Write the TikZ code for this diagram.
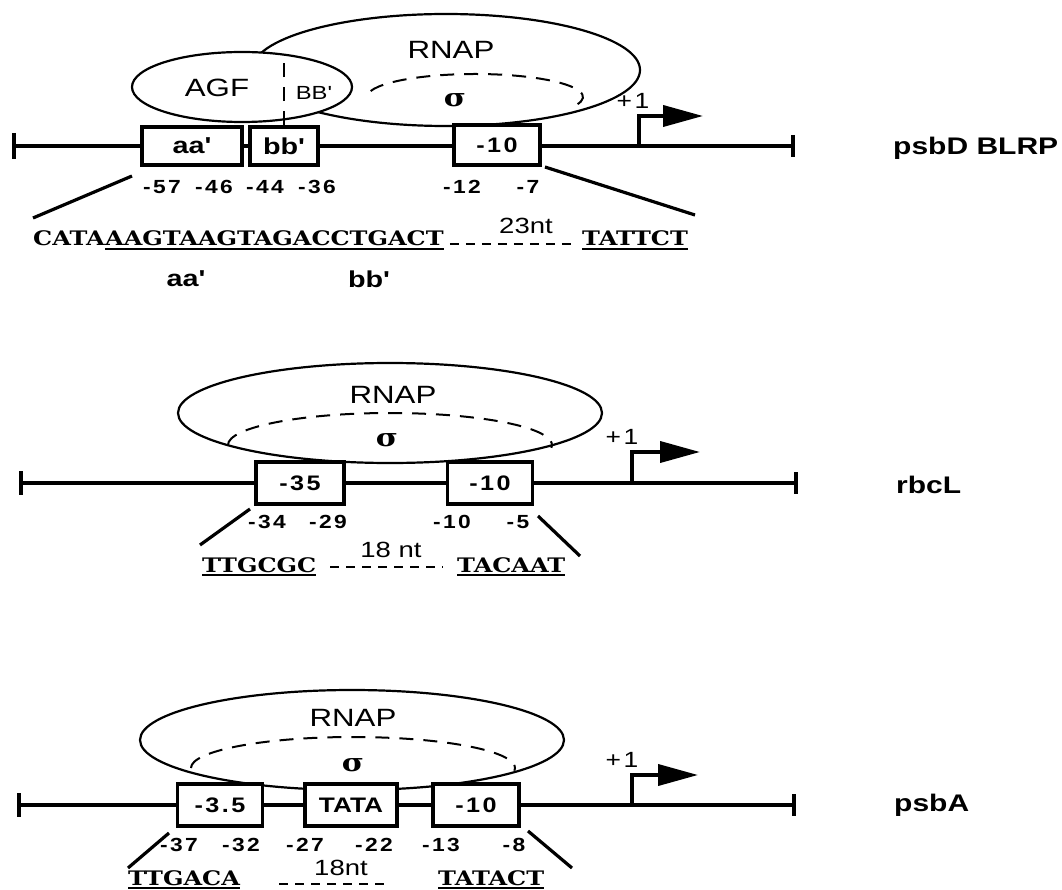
\documentclass[tikz,border=0pt]{standalone}
\usepackage{fontspec}
\usetikzlibrary{shapes.geometric, arrows.meta}
\setmainfont{Liberation Sans}
\newfontfamily\sansw{Liberation Sans}[FakeStretch=1.25]
\newfontfamily\sansn{Liberation Sans}[FakeStretch=1.2, LetterSpace=12]
\newfontfamily\serifw{DejaVu Serif}[FakeStretch=1.2]
\newcommand{\sitefont}{\sansn\bfseries\fontsize{21pt}{21pt}\selectfont}
\newcommand{\boxletters}{\sansw\bfseries\fontsize{23pt}{23pt}\selectfont}
\newcommand{\posfont}{\sansn\bfseries\fontsize{19pt}{19pt}\selectfont}
\newcommand{\seqfont}{\serifw\bfseries\fontsize{20pt}{20pt}\selectfont}
\newcommand{\protfont}{\sansw\fontsize{25pt}{25pt}\selectfont}
\newcommand{\smallprot}{\sansw\fontsize{19pt}{19pt}\selectfont}
\newcommand{\plusfont}{\sansn\fontsize{22pt}{22pt}\selectfont}
\newcommand{\gapfont}{\sansw\fontsize{22pt}{22pt}\selectfont}
\newcommand{\namefont}{\sansw\bfseries\fontsize{24pt}{24pt}\selectfont}
\newcommand{\sigfont}{\serifw\bfseries\fontsize{25pt}{25pt}\selectfont}
\tikzstyle{dna}=[line width=3.8pt]
\tikzstyle{site}=[draw, fill=white, line width=3.6pt, inner sep=0pt, font=\sitefont]
\tikzstyle{protein}=[ellipse, draw, line width=2.2pt, inner sep=0pt]
\tikzstyle{sigmaline}=[line width=2pt, dash pattern=on 14pt off 10pt]
\tikzstyle{tss}=[line width=3.8pt, -{Triangle[length=40pt, width=21pt]}]
\tikzstyle{fan}=[line width=3.2pt]
\tikzstyle{coordlab}=[inner sep=0pt, font=\posfont]
\tikzstyle{seq}=[inner sep=0pt, anchor=base west, font=\seqfont]
\tikzstyle{uline}=[line width=2pt]
\tikzstyle{gap}=[line width=1.8pt, dash pattern=on 9pt off 7pt]
\tikzstyle{prot}=[inner sep=0pt, font=\protfont]
\tikzstyle{genename}=[inner sep=0pt, anchor=west, font=\namefont]

\begin{document}
\begin{tikzpicture}[x=1pt, y=-1pt]
\useasboundingbox (0,0) rectangle (1062,890);

% psbD BLRP
\node[protein, minimum width=388pt, minimum height=112pt] (rnapD) at (446,70) {};
\draw[sigmaline] (475,97) ++(195:108 and 23) arc[start angle=195, end angle=380, x radius=108, y radius=23];
\node[protein, fill=white, minimum width=220pt, minimum height=70pt] (agfD) at (242,87) {};
\node[prot] (rnapDlab) at (451,50) {RNAP};
\node[inner sep=0pt, font=\sigfont] (sigD) at (455,100) {σ};
\node[prot] (agfDlab) at (217,88) {AGF};
\node[prot, font=\smallprot] (bbDlab) at (314,93) {BB'};

\coordinate (lD) at (14,146);
\coordinate (rD) at (793,146);
\draw[dna] (lD) -- (rD);
\draw[dna] ([yshift=13pt]lD) -- ([yshift=-13pt]lD);
\draw[dna] ([yshift=11pt]rD) -- ([yshift=-11pt]rD);

\node[site, minimum width=100pt, minimum height=38pt, font=\boxletters] (aaD) at (192,146) {aa'};
\node[site, minimum width=68pt, minimum height=38pt, font=\boxletters] (bbD) at (284,146) {bb'};
\node[site, minimum width=86pt, minimum height=40pt] (tenD) at (497,145) {-10};
\draw[sigmaline] (bbD.north) -- ([yshift=-3pt]bbD.north |- agfD.north);

\coordinate (tssD) at (639,146);
\coordinate (tipD) at (703,116);
\draw[tss] (tssD) |- (tipD);
\node[inner sep=0pt, font=\plusfont] (plusD) at (633,101) {+1};

\foreach \x/\t [count=\i] in {162/-57, 214/-46, 265/-44, 317/-36, 462/-12, 528/-7}
  \node[coordlab] (posD\i) at (\x,187) {\t};

\draw[fan] (132,176) -- (33,218);
\draw[fan] (545,167) -- (695,215);

\node[seq] (seqDa) at (33,246) {CATA};
\node[seq] (seqDb) at (seqDa.base east) {AAGTAAGTAGACCTGACT};
\node[seq] (seqDc) at (582,246) {TATTCT};
\draw[uline] ([yshift=-3pt]seqDb.south west) -- ([yshift=-3pt]seqDb.south east);
\draw[uline] ([yshift=-3pt]seqDc.south west) -- ([yshift=-3pt]seqDc.south east);
\draw[gap] ([xshift=6pt, yshift=2pt]seqDb.base east) -- ([xshift=-10pt, yshift=2pt]seqDc.base west);
\node[inner sep=0pt, font=\gapfont] (gapD) at (526,226) {23nt};
\node[inner sep=0pt, font=\boxletters] (aaDseq) at (186,279) {aa'};
\node[inner sep=0pt, font=\boxletters] (bbDseq) at (369,279) {bb'};
\node[genename] (psbD) at (893,148) {psbD BLRP};

% rbcL
\node[protein, minimum width=424pt, minimum height=100pt] (rnapR) at (390,413) {};
\draw[sigmaline] (390,445) ++(180:162 and 32) arc[start angle=180, end angle=365, x radius=162, y radius=32];
\node[prot] (rnapRlab) at (393,395) {RNAP};
\node[inner sep=0pt, font=\sigfont] (sigR) at (387,440) {σ};

\coordinate (lR) at (21,483);
\coordinate (rR) at (796,483);
\draw[dna] (lR) -- (rR);
\draw[dna] ([yshift=12pt]lR) -- ([yshift=-12pt]lR);
\draw[dna] ([yshift=11pt]rR) -- ([yshift=-11pt]rR);

\node[site, minimum width=88pt, minimum height=42pt] (boxR) at (300,483) {-35};
\node[site, minimum width=85pt, minimum height=42pt] (tenR) at (490,483) {-10};

\coordinate (tssR) at (632,483);
\coordinate (tipR) at (700,452);
\draw[tss] (tssR) |- (tipR);
\node[inner sep=0pt, font=\plusfont] (plusR) at (622,437) {+1};

\foreach \x/\t [count=\i] in {267/-34, 328/-29, 452/-10, 518/-5}
  \node[coordlab] (posR\i) at (\x,522) {\t};

\draw[fan] (250,509) -- (200,545);
\draw[fan] (538,516) -- (580,556);

\node[seq] (seqRa) at (202,572) {TTGCGC};
\node[seq] (seqRb) at (457,572) {TACAAT};
\draw[uline] ([yshift=-3pt]seqRa.south west) -- ([yshift=-3pt]seqRa.south east);
\draw[uline] ([yshift=-3pt]seqRb.south west) -- ([yshift=-3pt]seqRb.south east);
\draw[gap] ([xshift=14pt, yshift=5pt]seqRa.base east) -- ([xshift=-14pt, yshift=5pt]seqRb.base west);
\node[inner sep=0pt, font=\gapfont] (gapR) at (391,550) {18 nt};
\node[genename] (rbcL) at (896,485) {rbcL};

% psbA
\node[protein, minimum width=424pt, minimum height=100pt] (rnapA) at (352,740) {};
\draw[sigmaline] (353,768) ++(180:162 and 31) arc[start angle=180, end angle=365, x radius=162, y radius=31];
\node[prot] (rnapAlab) at (353,718) {RNAP};
\node[inner sep=0pt, font=\sigfont] (sigA) at (353,765) {σ};

\coordinate (lA) at (19,805);
\coordinate (rA) at (794,805);
\draw[dna] (lA) -- (rA);
\draw[dna] ([yshift=12pt]lA) -- ([yshift=-12pt]lA);
\draw[dna] ([yshift=11pt]rA) -- ([yshift=-11pt]rA);

\node[site, minimum width=85pt, minimum height=42pt] (boxA) at (220,805) {-3.5};
\node[site, minimum width=92pt, minimum height=42pt, font=\sansw\bfseries\fontsize{21pt}{21pt}\selectfont] (tataA) at (351,805) {TATA};
\node[site, minimum width=86pt, minimum height=42pt] (tenA) at (476,805) {-10};

\coordinate (tssA) at (632,805);
\coordinate (tipA) at (698,775);
\draw[tss] (tssA) |- (tipA);
\node[inner sep=0pt, font=\plusfont] (plusA) at (622,760) {+1};

\foreach \x/\t [count=\i] in {179/-37, 241/-32, 305/-27, 374/-22, 441/-13, 514/-8}
  \node[coordlab] (posA\i) at (\x,845) {\t};

\draw[fan] (169,833) -- (128,868);
\draw[fan] (528,831) -- (572,868);

\node[seq] (seqAa) at (128,885) {TTGACA};
\node[seq] (seqAb) at (438,885) {TATACT};
\draw[uline] ([yshift=-3pt]seqAa.south west) -- ([yshift=-3pt]seqAa.south east);
\draw[uline] ([yshift=-3pt]seqAb.south west) -- ([yshift=-3pt]seqAb.south east);
\draw[gap] (279,884) -- (390,884);
\node[inner sep=0pt, font=\gapfont] (gapA) at (341,868) {18nt};
\node[genename] (psbA) at (894,805) {psbA};
\end{tikzpicture}
\end{document}
